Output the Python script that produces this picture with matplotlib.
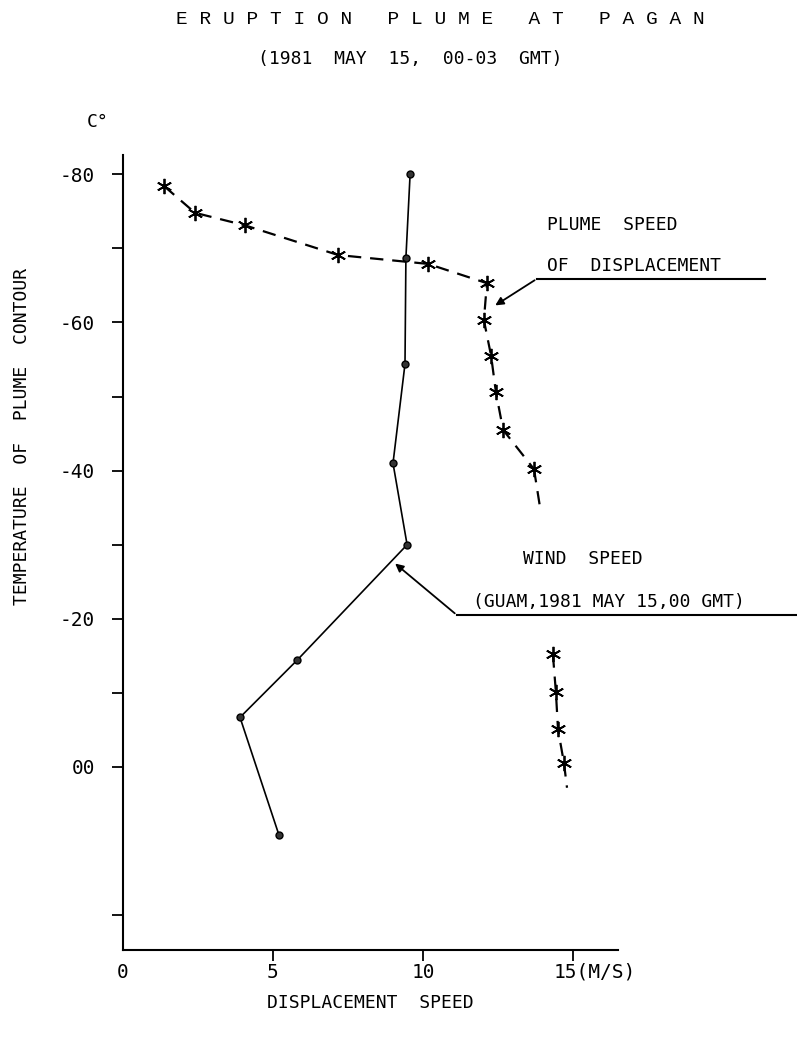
import matplotlib.pyplot as plt
import matplotlib.transforms as mtransforms
import numpy as np

# wind speed profile (Guam, 1981 May 15, 00 GMT)
wind_speed = [9.57, 9.43, 9.4, 9.0, 9.47, 5.8, 3.9, 5.2]
wind_temp = [-80, -68.7, -54.4, -41.0, -30.0, -14.4, -6.7, 9.2]

# plume speed of displacement, upper part
plume_speed_hi = [1.37, 2.4, 4.07, 7.17, 10.17, 12.13, 12.03, 12.27, 12.43, 12.67, 13.7]
plume_temp_hi = [-78.4, -74.8, -73.1, -69.1, -67.9, -65.3, -60.3, -55.5, -50.6, -45.5, -40.2]
# dashed tails without markers
tail_hi_speed = [13.7, 13.93]
tail_hi_temp = [-40.2, -34.3]

# lower part
plume_speed_lo = [14.33, 14.43, 14.5, 14.7]
plume_temp_lo = [-15.2, -10.1, -5.1, -0.5]
tail_lo_speed = [14.7, 14.8]
tail_lo_temp = [-0.5, 2.8]

y_ticks = [-80, -70, -60, -50, -40, -30, -20, -10, 0, 20]
y_labels = ['-80', '', '-60', '', '-40', '', '-20', '', '00', '']
x_ticks = [0, 5, 10, 15]
x_labels = ['0', '5', '10', '15(M/S)']

W, H = 797, 1042
FONT = 'DejaVu Sans Mono'
FS = 13


def fx(px):
    return px / W


def fy(py):
    return 1 - py / H


fig = plt.figure(figsize=(W / 100, H / 100), dpi=100)
ax = fig.add_axes([fx(123), fy(950), fx(618) - fx(123), fy(155) - fy(950)])

ax.plot(wind_speed, wind_temp, color='black', lw=1.2, marker='o', ms=5, mfc='#333333', mec='black')

star = (6, 2, 0)
dash = dict(color='black', lw=1.6, dashes=(6, 4))
ax.plot(plume_speed_hi, plume_temp_hi, marker=star, ms=11, mew=1.3, **dash)
ax.plot(tail_hi_speed, tail_hi_temp, **dash)
ax.plot(plume_speed_lo, plume_temp_lo, marker=star, ms=11, mew=1.3, **dash)
ax.plot(tail_lo_speed, tail_lo_temp, **dash)

ax.set_xlim(0, 16.5)
ax.set_ylim(24.7, -82.6)
ax.set_yticks(y_ticks)
ax.set_yticklabels(y_labels)
ax.set_xticks(x_ticks)
ax.set_xticklabels(x_labels)
ax.xaxis.get_major_ticks()[0].tick1line.set_visible(False)
ax.tick_params(axis='both', direction='out', length=8, width=1.3, labelsize=FS + 1)
ax.tick_params(axis='x', pad=1)
ax.tick_params(axis='y', pad=12)
for lab in ax.get_xticklabels() + ax.get_yticklabels():
    lab.set_family(FONT)
last = ax.get_xticklabels()[-1]
last.set_horizontalalignment('left')
last.set_transform(last.get_transform() + mtransforms.ScaledTranslation(-14 / 72, 0, fig.dpi_scale_trans))

for s in ['top', 'right']:
    ax.spines[s].set_visible(False)
for s in ['left', 'bottom']:
    ax.spines[s].set_linewidth(1.5)

# callouts
arrow = dict(arrowstyle='-|>', color='black', lw=1.3, mutation_scale=12)
ax.annotate('', xy=(12.33, -62.1), xytext=(13.8, -65.9), arrowprops=arrow, annotation_clip=False)
ax.plot([13.8, 21.4], [-65.9, -65.9], color='black', lw=1.5, clip_on=False)
ax.annotate('', xy=(9.0, -27.7), xytext=(11.13, -20.5), arrowprops=arrow, annotation_clip=False)
ax.plot([11.13, 22.6], [-20.5, -20.5], color='black', lw=1.5, clip_on=False)

fig.text(fx(547), fy(225), 'PLUME  SPEED', family=FONT, fontsize=FS, va='center')
fig.text(fx(547), fy(266), 'OF  DISPLACEMENT', family=FONT, fontsize=FS, va='center')
fig.text(fx(523), fy(559), 'WIND  SPEED', family=FONT, fontsize=FS, va='center')
fig.text(fx(473), fy(602), '(GUAM,1981 MAY 15,00 GMT)', family=FONT, fontsize=FS, va='center')

fig.text(fx(440), fy(20), 'E R U P T I O N   P L U M E   A T   P A G A N', family='Liberation Mono',
         fontsize=14, ha='center', va='center')
fig.text(fx(410), fy(59), '(1981  MAY  15,  00-03  GMT)', family=FONT, fontsize=FS,
         ha='center', va='center')
fig.text(fx(87), fy(122), 'C°', family=FONT, fontsize=FS, va='center')
fig.text(fx(22), fy(436), 'TEMPERATURE  OF  PLUME  CONTOUR', family=FONT, fontsize=FS,
         rotation=90, ha='center', va='center')
fig.text(fx(370), fy(1003), 'DISPLACEMENT  SPEED', family=FONT, fontsize=FS,
         ha='center', va='center')

fig.savefig('out.png', dpi=100)
